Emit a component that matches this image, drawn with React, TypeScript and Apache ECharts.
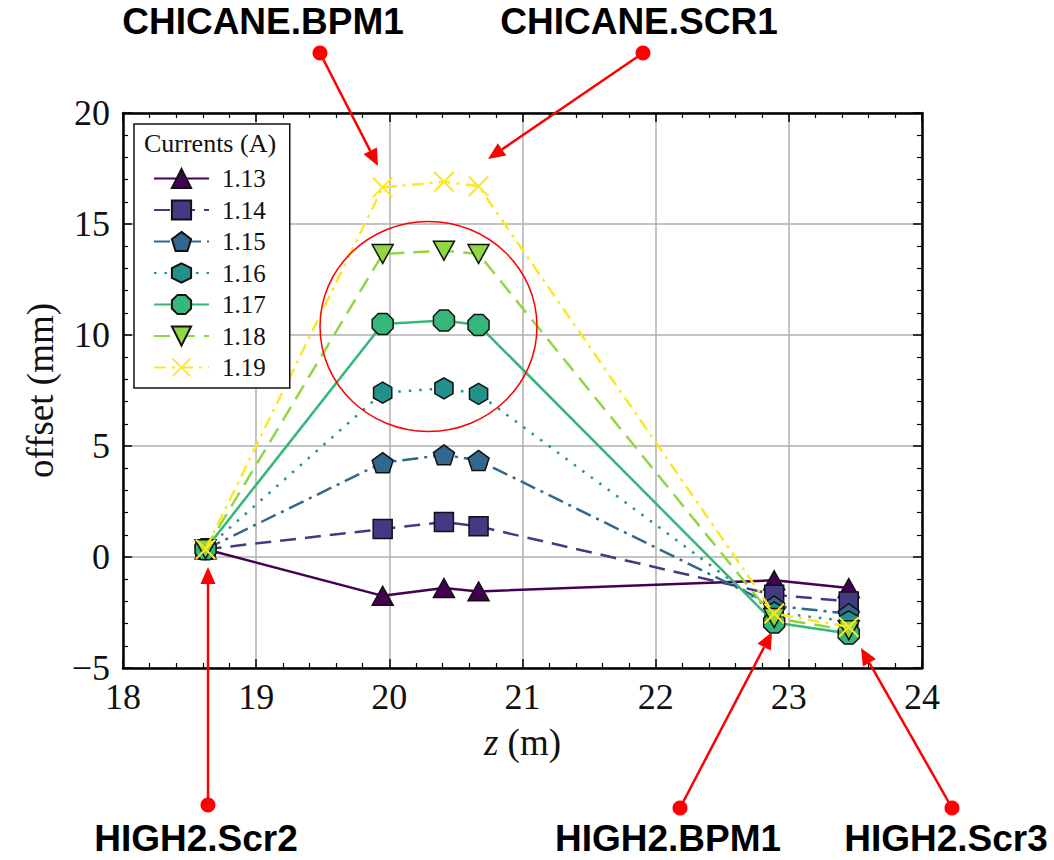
import React, { useEffect, useRef } from "react";
import * as echarts from "echarts";

const zPositions = [18.62, 19.95, 20.41, 20.67, 22.89, 23.45];
const currents = ["1.13", "1.14", "1.15", "1.16", "1.17", "1.18", "1.19"];
const s113 = [0.35, -1.75, -1.4, -1.55, -1.05, -1.4];
const s114 = [0.35, 1.26, 1.58, 1.38, -1.7, -2.0];
const s115 = [0.35, 4.25, 4.6, 4.35, -2.2, -2.55];
const s116 = [0.35, 7.4, 7.6, 7.35, -2.5, -2.9];
const s117 = [0.35, 10.5, 10.65, 10.45, -2.95, -3.45];
const s118 = [0.35, 13.65, 13.8, 13.65, -2.75, -3.3];
const s119 = [0.35, 16.65, 16.9, 16.7, -2.55, -3.15];
const allSeries = [s113, s114, s115, s116, s117, s118, s119];
const colors = ["#440154", "#443983", "#31688e", "#21918c", "#35b779", "#90d743", "#fde725"];
const xTicks = [18, 24, 1];
const yTicks = [-5, 20, 5];

const PENT = "path://M50,0L97.55,34.55L79.39,90.45L20.61,90.45L2.45,34.55Z";
const HEX = "path://M50,0L93.3,25L93.3,75L50,100L6.7,75L6.7,25Z";
const OCT = "path://M96.2,69.1L69.1,96.2L30.9,96.2L3.8,69.1L3.8,30.9L30.9,3.8L69.1,3.8L96.2,30.9Z";
const TDOWN = "path://M0,0L100,0L50,90Z";
const TUP = "path://M50,0L100,90L0,90Z";
const XMARK = "path://M0,7L7,0L50,43L93,0L100,7L57,50L100,93L93,100L50,57L7,100L0,93L43,50Z";
const symbols = [TUP, "rect", PENT, HEX, OCT, TDOWN, XMARK];
const lineTypes: any[] = ["solid", [16, 9], [16, 6, 3, 6], [2.5, 8], "solid", [16, 9], [12, 6, 3, 6]];

function arrow(x1: number, y1: number, x2: number, y2: number) {
  const dx = x2 - x1, dy = y2 - y1;
  const L = Math.sqrt(dx * dx + dy * dy);
  const ux = dx / L, uy = dy / L;
  const hl = 17, hw = 7.5;
  const bx = x2 - ux * hl, by = y2 - uy * hl;
  return [
    { type: "line", shape: { x1, y1, x2: bx, y2: by }, style: { stroke: "#ff0000", lineWidth: 2.5 }, z: 100 },
    {
      type: "polygon",
      shape: { points: [[x2, y2], [bx - uy * hw, by + ux * hw], [bx + uy * hw, by - ux * hw]] },
      style: { fill: "#ff0000" },
      z: 100,
    },
    { type: "circle", shape: { cx: x1, cy: y1, r: 7.5 }, style: { fill: "#ff0000" }, z: 100 },
  ];
}

function label(text: string, x: number, y: number) {
  return {
    type: "text",
    x,
    y,
    style: {
      text,
      fill: "#000",
      font: "bold 37px 'Liberation Sans', Arial, sans-serif",
      align: "center",
      verticalAlign: "middle",
    },
    z: 100,
  };
}

const minus = (v: number) => String(v).replace("-", "\u2212");

export default function App() {
  const ref = useRef<HTMLDivElement>(null);
  useEffect(() => {
    if (!ref.current) return;
    const chart = echarts.init(ref.current, null, { renderer: "svg" });
    const serif = "'Liberation Serif', 'Times New Roman', serif";
    const axisCommon = {
      type: "value",
      axisLine: { show: true, onZero: false, lineStyle: { color: "#000", width: 2.5 } },
      axisTick: { show: true, inside: true, length: 9, lineStyle: { color: "#000", width: 1.5 } },
      minorTick: { show: true, splitNumber: 5, length: 5, lineStyle: { color: "#000", width: 1.2 } },
    };
    const series = allSeries.map((vals, i) => ({
      name: currents[i],
      type: "line",
      data: vals.map((v, j) => [zPositions[j], v]),
      symbol: symbols[i],
      symbolSize: i === 1 ? 19 : 21,
      symbolKeepAspect: true,
      lineStyle: { color: colors[i], width: 2.5, type: lineTypes[i] },
      itemStyle: {
        color: colors[i],
        borderColor: i === 6 ? colors[i] : "#111",
        borderWidth: i === 6 ? 0 : 1.5,
      },
      z: 2 + i,
    }));
    const graphics: any[] = [
      {
        type: "text",
        x: 210,
        y: 143,
        style: { text: "Currents (A)", fill: "#111", font: "26px " + serif, align: "center", verticalAlign: "middle" },
        z: 50,
      },
      {
        type: "ellipse",
        shape: { cx: 428.5, cy: 326.5, rx: 108.5, ry: 105 },
        style: { fill: "none", stroke: "#ff0000", lineWidth: 1.5 },
        z: 90,
      },
      ...arrow(320, 53, 378, 166),
      ...arrow(643, 53, 488, 159),
      ...arrow(208, 805, 208, 567),
      ...arrow(680, 808, 772, 632),
      ...arrow(952, 808, 861, 648),
      label("CHICANE.BPM1", 263, 21),
      label("CHICANE.SCR1", 639, 21),
      label("HIGH2.Scr2", 196, 838),
      label("HIGH2.BPM1", 668, 838),
      label("HIGH2.Scr3", 946, 838),
    ];
    chart.setOption({
      animation: false,
      backgroundColor: "#fff",
      grid: { left: 123, right: 132, top: 113, bottom: 192, containLabel: false },
      xAxis: [
        {
          ...axisCommon,
          min: xTicks[0],
          max: xTicks[1],
          interval: xTicks[2],
          position: "bottom",
          axisLabel: { color: "#111", fontFamily: serif, fontSize: 36, margin: 11, formatter: minus },
          splitLine: { show: true, lineStyle: { color: "#b0b0b0", width: 1.5 } },
          name: "{i|z} (m)",
          nameLocation: "middle",
          nameGap: 56,
          nameTextStyle: {
            color: "#111",
            fontFamily: serif,
            fontSize: 37,
            rich: { i: { fontStyle: "italic", fontFamily: serif, fontSize: 37, color: "#111" } },
          },
        },
        {
          ...axisCommon,
          min: xTicks[0],
          max: xTicks[1],
          interval: xTicks[2],
          position: "top",
          axisLabel: { show: false },
          splitLine: { show: false },
        },
      ],
      yAxis: [
        {
          ...axisCommon,
          min: yTicks[0],
          max: yTicks[1],
          interval: yTicks[2],
          position: "left",
          axisLabel: { color: "#111", fontFamily: serif, fontSize: 36, margin: 13, formatter: minus },
          splitLine: { show: true, lineStyle: { color: "#b0b0b0", width: 1.5 } },
          name: "offset (mm)",
          nameLocation: "middle",
          nameGap: 64,
          nameTextStyle: { color: "#111", fontFamily: serif, fontSize: 37 },
        },
        {
          ...axisCommon,
          min: yTicks[0],
          max: yTicks[1],
          interval: yTicks[2],
          position: "right",
          axisLabel: { show: false },
          splitLine: { show: false },
        },
      ],
      legend: {
        orient: "vertical",
        left: 134,
        top: 124,
        padding: [42, 24, 8, 19],
        itemWidth: 55,
        itemHeight: 24,
        itemGap: 6.5,
        backgroundColor: "#fff",
        borderColor: "#111",
        borderWidth: 1.5,
        borderRadius: 0,
        textStyle: { color: "#111", fontFamily: serif, fontSize: 25, lineHeight: 24, padding: [0, 0, 0, 8] },
        data: currents,
        z: 20,
      },
      graphic: graphics,
      series,
    });
    return () => chart.dispose();
  }, []);
  return <div ref={ref} style={{ position: "fixed", left: 0, top: 0, width: 1054, height: 860 }} />;
}
